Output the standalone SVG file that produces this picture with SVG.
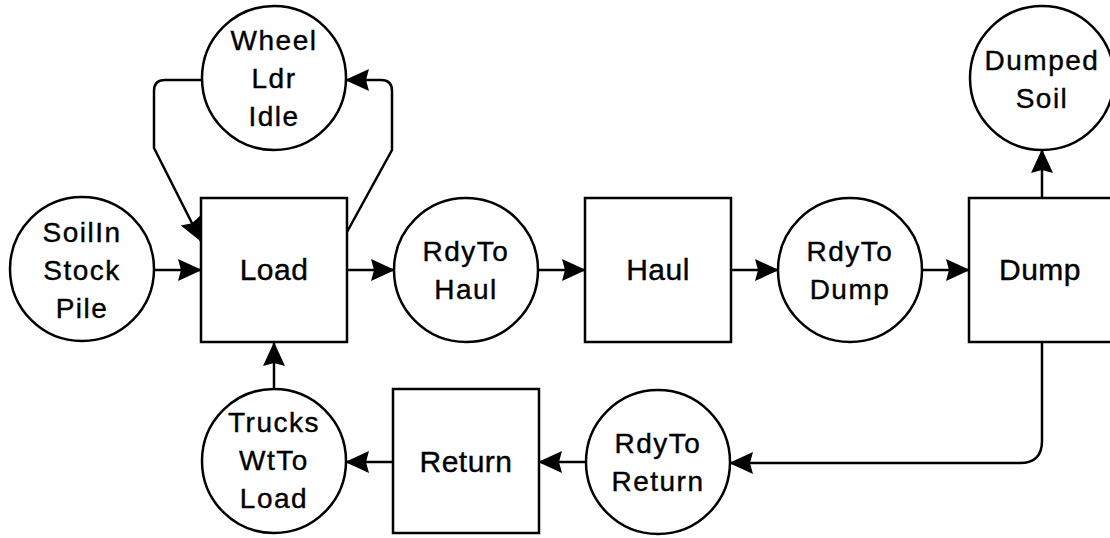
<svg xmlns="http://www.w3.org/2000/svg" width="1110" height="538" viewBox="0 0 1110 538">
<style>
.place{fill:#fff;stroke:#000;stroke-width:2.5}
.trans{fill:#fff;stroke:#000;stroke-width:2.5}
.pt{font-family:"Liberation Sans",Arial,sans-serif;font-size:28px;letter-spacing:1.5px;text-anchor:middle;fill:#000;stroke:#000;stroke-width:0.4}
.tt{font-family:"Liberation Sans",Arial,sans-serif;font-size:30px;letter-spacing:0.5px;text-anchor:middle;fill:#000;stroke:#000;stroke-width:0.4}
.arc{fill:none;stroke:#000;stroke-width:2.5;marker-end:url(#ah)}
</style>
<defs>
<marker id="ah" markerUnits="userSpaceOnUse" viewBox="0 0 24 24" refX="23" refY="12" markerWidth="24" markerHeight="24" orient="auto">
<path d="M0,1 L24,12 L0,23 L3,12 z" fill="#000"/>
</marker>
</defs>
<rect width="1110" height="538" fill="#fff"/>
<g id="connectors">
<path class="arc" d="M154,270 H201"/>
<path class="arc" d="M347,270 H394"/>
<path class="arc" d="M538,270 H585"/>
<path class="arc" d="M731,270 H778"/>
<path class="arc" d="M922,270 H969"/>
<path class="arc" d="M1042,198 V150"/>
<path class="arc" d="M1042,342 V441 Q1042,463 1020,463 H730"/>
<path class="arc" d="M585,462 H539"/>
<path class="arc" d="M393,462 H346"/>
<path class="arc" d="M274,389 V343"/>
<path class="arc" d="M202,80 H165 Q154,80 154,91 V148 L201,241"/>
<path class="arc" d="M347,232 L392,150 V91 Q392,80 381,80 H346"/>
</g>
<g id="soilin">
<circle class="place" cx="82" cy="269" r="72"/>
<text class="pt" x="82" y="242">SoilIn</text>
<text class="pt" x="82" y="280">Stock</text>
<text class="pt" x="82" y="318">Pile</text>
</g>
<g id="wheelldr">
<circle class="place" cx="274" cy="78" r="72"/>
<text class="pt" x="274" y="50">Wheel</text>
<text class="pt" x="274" y="88">Ldr</text>
<text class="pt" x="274" y="126">Idle</text>
</g>
<g id="load">
<rect class="trans" x="201" y="198" width="146" height="144"/>
<text class="tt" x="274" y="280">Load</text>
</g>
<g id="rdytohaul">
<circle class="place" cx="466" cy="270" r="72"/>
<text class="pt" x="466" y="261">RdyTo</text>
<text class="pt" x="466" y="299">Haul</text>
</g>
<g id="haul">
<rect class="trans" x="585" y="198" width="146" height="144"/>
<text class="tt" x="658" y="280">Haul</text>
</g>
<g id="rdytodump">
<circle class="place" cx="850" cy="270" r="72"/>
<text class="pt" x="850" y="261">RdyTo</text>
<text class="pt" x="850" y="299">Dump</text>
</g>
<g id="dump">
<rect class="trans" x="969" y="198" width="146" height="144"/>
<text class="tt" x="1040" y="280">Dump</text>
</g>
<g id="dumpedsoil">
<circle class="place" cx="1042" cy="78" r="72"/>
<text class="pt" x="1042" y="70">Dumped</text>
<text class="pt" x="1042" y="108">Soil</text>
</g>
<g id="rdytoreturn">
<circle class="place" cx="658" cy="462" r="72"/>
<text class="pt" x="658" y="453">RdyTo</text>
<text class="pt" x="658" y="491">Return</text>
</g>
<g id="return">
<rect class="trans" x="393" y="389" width="146" height="144"/>
<text class="tt" x="466" y="472">Return</text>
</g>
<g id="truckswttoload">
<circle class="place" cx="274" cy="461" r="72"/>
<text class="pt" x="274" y="432">Trucks</text>
<text class="pt" x="274" y="470">WtTo</text>
<text class="pt" x="274" y="508">Load</text>
</g>
</svg>
